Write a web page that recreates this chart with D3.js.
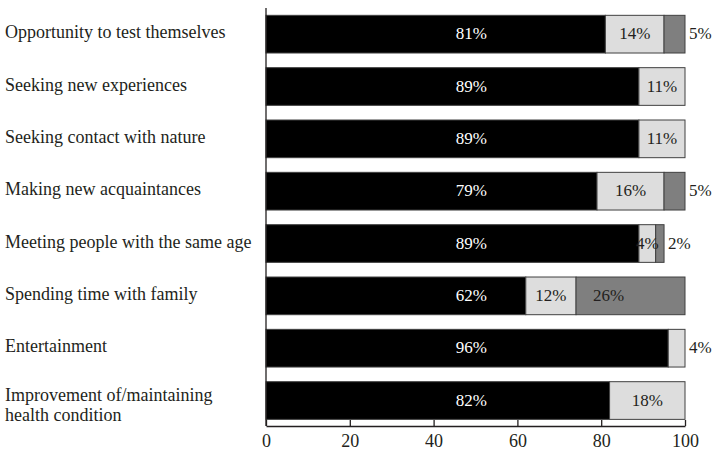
<!DOCTYPE html>
<html>
<head>
<meta charset="utf-8">
<script src="https://cdn.jsdelivr.net/npm/d3@7/dist/d3.min.js"></script>
<style>
  html, body { margin: 0; padding: 0; background: #fff; }
  svg { display: block; }
  text { font-family: "Liberation Serif", "Times New Roman", serif; fill: #231f20; }
</style>
</head>
<body>
<svg id="chart" width="715" height="452"></svg>
<script>
// Motives, one row each (a "\n" splits a label over two lines)
const categories = [
  "Opportunity to test themselves",
  "Seeking new experiences",
  "Seeking contact with nature",
  "Making new acquaintances",
  "Meeting people with the same age",
  "Spending time with family",
  "Entertainment",
  "Improvement of/maintaining\nhealth condition"
];
// Shares of answers (%), stacked left to right
const important    = [81, 89, 89, 79, 89, 62, 96, 82];
const partly       = [14, 11, 11, 16,  4, 12,  4, 18];
const notImportant = [ 5,  0,  0,  5,  2, 26,  0,  0];
const xTicks = [0, 20, 40, 60, 80, 100];

const seriesKeys = ["important", "partly", "notImportant"];
const fills = { important: "#000000", partly: "#dddddd", notImportant: "#7f7f7f" };
const textFills = { important: "#ffffff", partly: "#231f20", notImportant: "#231f20" };

const rows = categories.map((c, i) => ({
  category: c,
  important: important[i],
  partly: partly[i],
  notImportant: notImportant[i]
}));

const svg = d3.select("#chart");

const x = d3.scaleLinear().domain([0, 100]).range([266, 685]);
const y = d3.scaleBand()
  .domain(categories)
  .range([8, 426.7])
  .paddingInner(0.28)
  .paddingOuter(0.14);

const stacked = d3.stack().keys(seriesKeys)(rows);

// Bars
const layers = svg.append("g").selectAll("g")
  .data(stacked)
  .join("g")
  .attr("fill", d => fills[d.key]);

layers.selectAll("rect")
  .data(d => d.filter(s => s[1] - s[0] > 0))
  .join("rect")
  .attr("x", d => x(d[0]))
  .attr("y", d => y(d.data.category))
  .attr("width", d => x(d[1]) - x(d[0]))
  .attr("height", y.bandwidth())
  .attr("stroke", "#404040")
  .attr("stroke-width", 1);

// Value labels
const labels = [];
stacked.forEach(layer => {
  layer.forEach(seg => {
    const v = seg[1] - seg[0];
    if (v <= 0) return;
    const row = seg.data;
    const total = seriesKeys.reduce((s, k) => s + row[k], 0);
    const isLast = Math.abs(seg[1] - total) < 1e-9;
    const cy = y(row.category) + y.bandwidth() / 2 + 5;
    let lx, anchor, fill;
    if (layer.key === "important") {
      lx = x(49); anchor = "middle"; fill = textFills.important;
    } else if (isLast && v <= 5) {
      lx = x(seg[1]) + 4; anchor = "start"; fill = "#231f20";
    } else if (layer.key === "notImportant") {
      lx = x(seg[0]) + 17; anchor = "start"; fill = textFills.notImportant;
    } else {
      lx = x((seg[0] + seg[1]) / 2); anchor = "middle"; fill = textFills[layer.key];
    }
    labels.push({ text: v + "%", x: lx, y: cy, anchor, fill });
  });
});

svg.append("g").selectAll("text")
  .data(labels)
  .join("text")
  .attr("x", d => d.x)
  .attr("y", d => d.y)
  .attr("text-anchor", d => d.anchor)
  .style("fill", d => d.fill)
  .style("font-size", "17px")
  .text(d => d.text);

// Category labels on the left
const cat = svg.append("g").selectAll("text")
  .data(categories)
  .join("text")
  .attr("x", 5)
  .attr("y", d => {
    const lines = d.split("\n");
    const c = y(d) + y.bandwidth() / 2;
    return lines.length > 1 ? c + 0.5 : c + 4;
  })
  .style("font-size", "18px");

cat.selectAll("tspan")
  .data(d => d.split("\n"))
  .join("tspan")
  .attr("x", 5)
  .attr("dy", (d, i) => i === 0 ? 0 : 19.5)
  .text(d => d);

// Bottom axis with ticks pointing up
const xAxis = d3.axisBottom(x)
  .tickValues(xTicks)
  .tickSizeInner(-6)
  .tickSizeOuter(0)
  .tickPadding(8);

const gx = svg.append("g")
  .attr("transform", "translate(0,426)")
  .call(xAxis);
gx.select(".domain").attr("stroke", "#231f20").attr("stroke-width", 1.3);
gx.selectAll(".tick line").attr("stroke", "#231f20").attr("stroke-width", 1.3);
gx.selectAll(".tick text")
  .style("font-size", "18px")
  .style("font-family", "'Liberation Serif', serif")
  .style("fill", "#231f20");

// Left axis line
svg.append("line")
  .attr("x1", x(0)).attr("x2", x(0))
  .attr("y1", 8).attr("y2", 426)
  .attr("stroke", "#231f20")
  .attr("stroke-width", 1.3);
</script>
</body>
</html>
